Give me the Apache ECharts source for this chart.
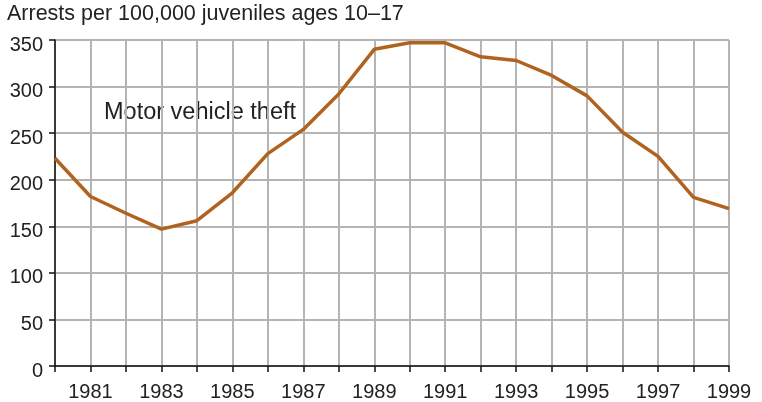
<!DOCTYPE html>
<html>
<head>
<meta charset="utf-8">
<script src="https://cdn.jsdelivr.net/npm/echarts@6/dist/echarts.min.js"></script>
<style>html,body{margin:0;padding:0;background:#fff}#c{width:762px;height:402px}</style>
</head>
<body>
<div id="c"></div>
<script>
const years = ['1980','1981','1982','1983','1984','1985','1986','1987','1988','1989','1990','1991','1992','1993','1994','1995','1996','1997','1998','1999'];
const motorVehicleTheft = [223, 182, 164, 147, 156, 186, 228, 254, 292, 340, 347, 347, 332, 328, 312, 290, 251, 225, 181, 169];
const yTicks = [0, 50, 100, 150, 200, 250, 300, 350];
const titleText = 'Arrests per 100,000 juveniles ages 10\u201317';
const seriesLabel = 'Motor vehicle theft';

const FONT = '"Liberation Sans", Arial, sans-serif';
const chart = echarts.init(document.getElementById('c'), null, {renderer: 'canvas'});
chart.setOption({
  animation: false,
  backgroundColor: '#fff',
  title: {
    text: titleText, left: 7, top: 3, padding: 0,
    textStyle: {fontFamily: FONT, fontSize: 21.5, fontWeight: 'normal', color: '#222'}
  },
  graphic: [{
    type: 'text', left: 104, top: 101,
    style: {text: seriesLabel, font: '23.5px "Liberation Sans", Arial, sans-serif', fill: '#222'}
  }],
  grid: {left: 55, right: 33, top: 40, bottom: 36, containLabel: false},
  xAxis: {
    type: 'category', data: years, boundaryGap: false,
    axisLine: {lineStyle: {color: '#111', width: 1.5}},
    axisTick: {show: true, interval: 0, length: 6, lineStyle: {color: '#111', width: 1.5}},
    axisLabel: {
      interval: function (i) { return i % 2 === 1; },
      margin: 16, fontFamily: FONT, fontSize: 20, color: '#222'
    },
    splitLine: {show: true, interval: 0, lineStyle: {color: '#b4b4b4', width: 2}}
  },
  yAxis: {
    type: 'value', min: 0, max: 350, interval: 50,
    axisLine: {show: true, lineStyle: {color: '#111', width: 1.5}},
    axisTick: {show: true, length: 6, lineStyle: {color: '#111', width: 1.5}},
    axisLabel: {margin: 12, fontFamily: FONT, fontSize: 20, color: '#222',
      verticalAlign: 'top', lineHeight: 10,
      formatter: function (v) { return yTicks.indexOf(v) >= 0 ? String(v) : ''; }},
    splitLine: {show: true, lineStyle: {color: '#b4b4b4', width: 2}}
  },
  series: [{
    type: 'line', data: motorVehicleTheft, symbol: 'none',
    lineStyle: {color: '#b0631f', width: 3.5}, z: 5
  }]
});
</script>
</body>
</html>
